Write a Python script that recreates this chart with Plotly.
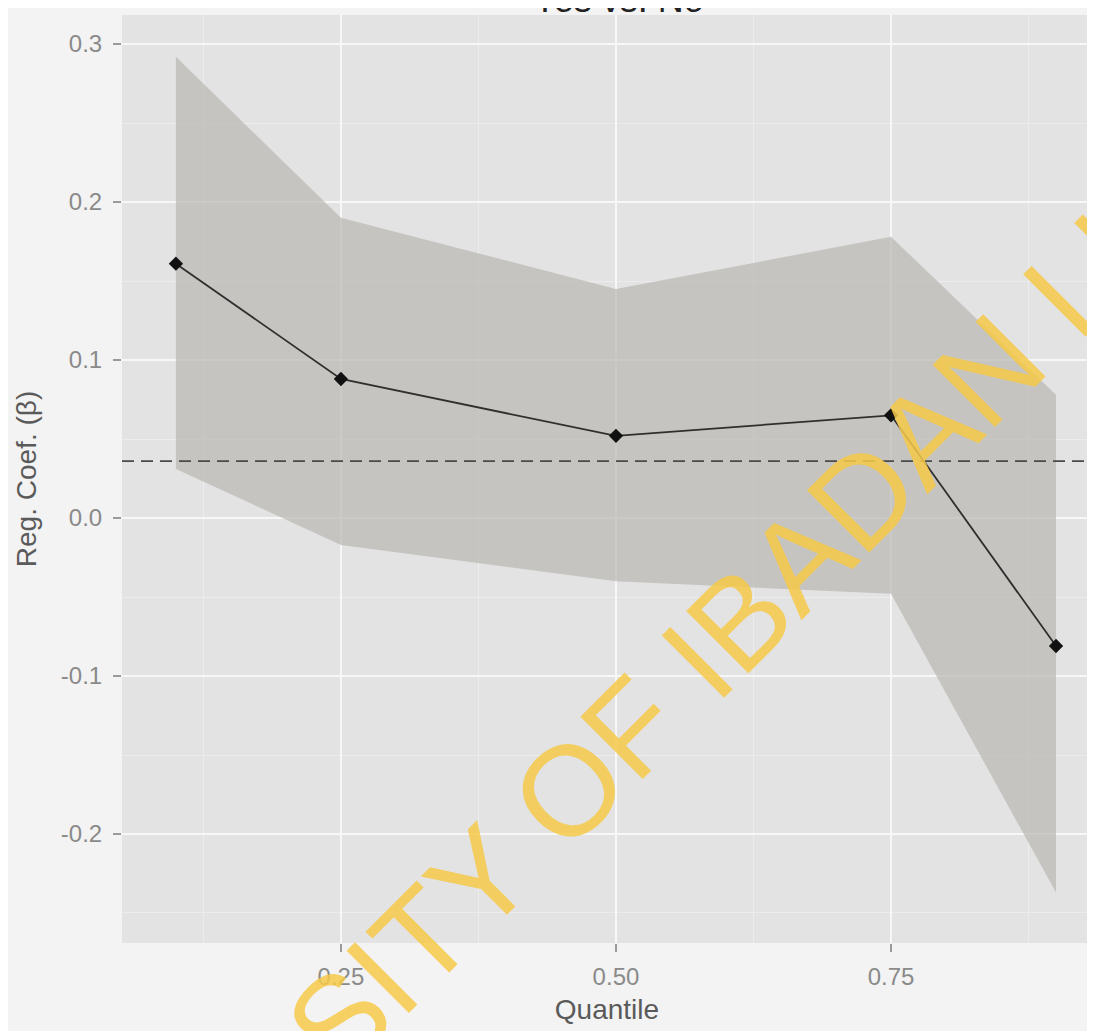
import plotly.graph_objects as go

quantiles = [0.1, 0.25, 0.5, 0.75, 0.9]
coef = [0.161, 0.088, 0.052, 0.065, -0.081]
upper = [0.292, 0.190, 0.145, 0.178, 0.078]
lower = [0.031, -0.017, -0.040, -0.048, -0.237]
ols_line = 0.036
x_ticks = [0.25, 0.50, 0.75]
x_tick_labels = ["0.25", "0.50", "0.75"]
y_ticks = [-0.2, -0.1, 0.0, 0.1, 0.2, 0.3]
y_tick_labels = ["-0.2", "-0.1", "0.0", "0.1", "0.2", "0.3"]

fig = go.Figure()
fig.add_trace(go.Scatter(x=quantiles, y=upper, mode="lines", line=dict(width=0),
                         showlegend=False, hoverinfo="skip"))
fig.add_trace(go.Scatter(x=quantiles, y=lower, mode="lines", line=dict(width=0),
                         fill="tonexty", fillcolor="rgba(186,184,179,0.72)",
                         showlegend=False, hoverinfo="skip"))
fig.add_trace(go.Scatter(x=quantiles, y=coef, mode="lines+markers",
                         line=dict(color="#2f2f2f", width=1.8),
                         marker=dict(color="#111111", size=11, symbol="diamond"),
                         showlegend=False))
fig.add_hline(y=ols_line, line=dict(color="#4a4a4a", width=1.8, dash="12px,7px"))

fig.add_annotation(text="Yes vs. No", xref="paper", yref="paper", x=0.512, y=1,
                   xanchor="center", yanchor="middle", yshift=16, showarrow=False,
                   font=dict(size=36, color="#222222", family="Liberation Sans"))
fig.add_annotation(text="UNIVERSITY OF IBADAN LIBRARY", xref="paper", yref="paper",
                   x=0.595, y=0.306, xanchor="center", yanchor="middle",
                   textangle=-45, showarrow=False,
                   font=dict(size=128, color="rgba(246,201,72,0.85)", family="Liberation Sans"))

fig.update_layout(
    width=1087, height=1023,
    margin=dict(l=114, r=3, t=7, b=88),
    paper_bgcolor="#f3f3f3",
    plot_bgcolor="#e3e3e3",
    font=dict(family="Liberation Sans", color="#8a8a8a"),
    xaxis=dict(range=[0.051, 0.9327], tickvals=x_ticks, ticktext=x_tick_labels,
               automargin=False,
               showgrid=True, gridcolor="#f7f7f7", gridwidth=2, zeroline=False,
               ticks="outside", ticklen=8, tickcolor="#9a9a9a", tickwidth=1.5,
               ticklabelstandoff=4,
               tickfont=dict(size=24, color="#8a8a8a"),
               title=dict(text="Quantile", font=dict(size=28, color="#5a5a5a"), standoff=10),
               minor=dict(tickvals=[0.125, 0.375, 0.625, 0.875], showgrid=True,
                          gridcolor="#ececec", gridwidth=1)),
    yaxis=dict(range=[-0.269, 0.3184], tickvals=y_ticks, ticktext=y_tick_labels,
               automargin=False,
               showgrid=True, gridcolor="#f7f7f7", gridwidth=2, zeroline=False,
               ticks="outside", ticklen=8, tickcolor="#9a9a9a", tickwidth=1.5,
               ticklabelstandoff=6,
               tickfont=dict(size=24, color="#8a8a8a"),
               title=dict(text="Reg. Coef. (β)", font=dict(size=28, color="#5a5a5a"), standoff=16),
               minor=dict(tickvals=[-0.25, -0.15, -0.05, 0.05, 0.15, 0.25], showgrid=True,
                          gridcolor="#ececec", gridwidth=1)),
)

fig.write_html("out.html")
